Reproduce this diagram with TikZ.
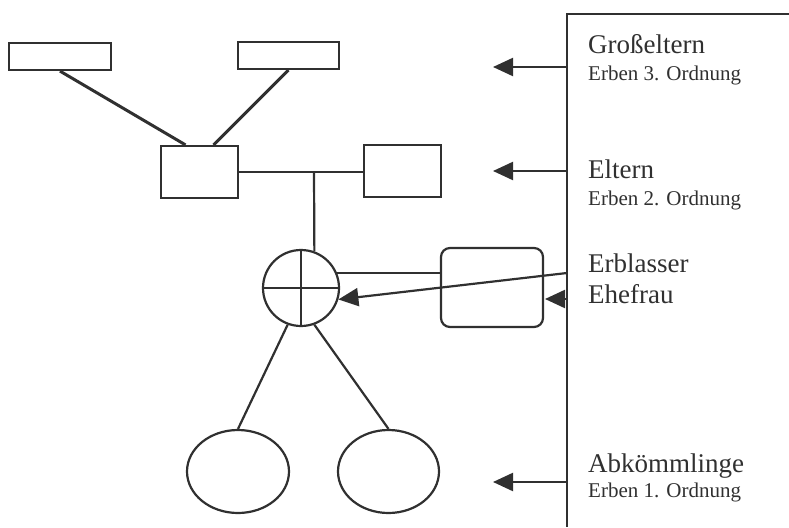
\documentclass[tikz,border=0pt]{standalone}
\usepackage{fontspec}
\setmainfont{Liberation Serif}
\usetikzlibrary{arrows.meta,shapes.geometric}
\definecolor{ink}{HTML}{303030}
\tikzset{
  ln/.style={draw=ink,line width=2.2pt},
  thick ln/.style={draw=ink,line width=3pt},
  rbox/.style={ln,rectangle,inner sep=0pt},
  arr/.style={ln,-{Triangle[length=20pt,width=18pt]}},
  big/.style={anchor=base west,inner sep=0pt,text=ink,font=\fontsize{27}{29}\selectfont},
  small/.style={anchor=base west,inner sep=0pt,text=ink,font=\fontsize{21}{23}\selectfont},
}
\begin{document}
\begin{tikzpicture}[x=1pt,y=-1pt]
\useasboundingbox (0,0) rectangle (789,527);
% boxes
\node[rbox,minimum width=102pt,minimum height=27pt] (gp1) at (60,56.5) {};
\node[rbox,minimum width=101pt,minimum height=27pt] (gp2) at (288.5,55.5) {};
\node[rbox,minimum width=77pt,minimum height=52pt] (p1) at (199.5,172) {};
\node[rbox,minimum width=77pt,minimum height=52pt] (p2) at (402.5,171) {};
\node[ln,circle,minimum size=76pt,inner sep=0pt] (ego) at (301,288) {};
\node[rbox,rounded corners=9pt,minimum width=102pt,minimum height=79pt] (wife) at (492,287.5) {};
\node[ln,ellipse,minimum width=102pt,minimum height=83pt,inner sep=0pt] (c1) at (238,471.5) {};
\node[ln,ellipse,minimum width=101pt,minimum height=83pt,inner sep=0pt] (c2) at (388.5,471.5) {};
% cross in circle
\draw[ln] (ego.north) -- (ego.south) (ego.west) -- (ego.east);
% connectors
\draw[thick ln] (gp1.south) -- ([xshift=-14pt]p1.north);
\draw[thick ln] (gp2.south) -- ([xshift=14pt]p1.north);
\coordinate (mid) at (314,172);
\draw[ln] (p1.east) -- (p1.east -| p2.west);
\draw[ln] (mid) -- (ego.70);
\draw[ln] (ego.22) -- (ego.22 -| wife.west);
\draw[ln] (ego.250) -- (c1.north);
\draw[ln] (ego.290) -- (c2.north);
% right panel
\coordinate (tr) at (789,14);
\coordinate (tl) at (567,14);
\coordinate (bl) at (567,527);
\draw[ln] (tr) -- (tl) -- (bl);
\coordinate (s3) at (567,67);  \coordinate (t3) at (493,67);
\coordinate (s2) at (567,171); \coordinate (t2) at (493,171);
\coordinate (s1) at (567,482); \coordinate (t1) at (493,482);
\coordinate (se) at (567,273);
\coordinate (sw) at (567,299); \coordinate (tw) at (545,299);
\draw[arr] (s3) -- (t3);
\draw[arr] (s2) -- (t2);
\draw[arr] (s1) -- (t1);
\draw[arr] (se) -- (ego.-17);
\draw[arr] (sw) -- (tw);
% texts
\node[big] (l3) at (588,53) {Großeltern};
\node[small] (o3) at (588,80) {Erben 3. Ordnung};
\node[big] (l2) at (588,178) {Eltern};
\node[small] (o2) at (588,205) {Erben 2. Ordnung};
\node[big] (le) at (588,272) {Erblasser};
\node[big] (lw) at (588,303) {Ehefrau};
\node[big] (l1) at (588,472) {Abkömmlinge};
\node[small] (o1) at (588,497) {Erben 1. Ordnung};
\end{tikzpicture}
\end{document}
